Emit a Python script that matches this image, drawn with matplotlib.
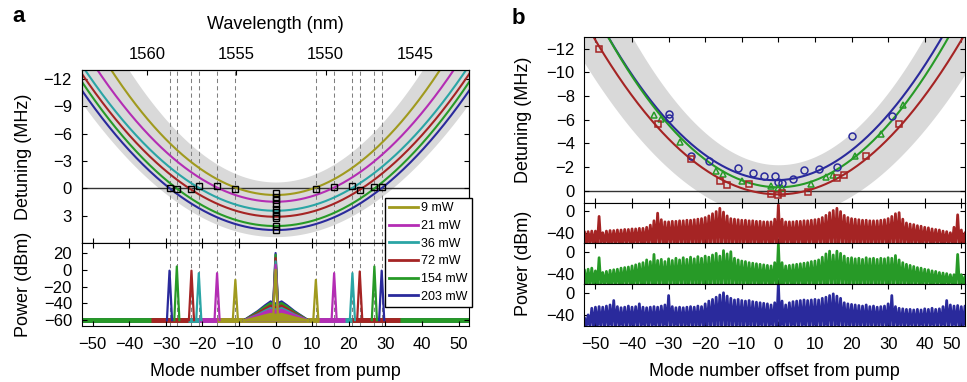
import numpy as np
import matplotlib
matplotlib.use("Agg")
import matplotlib.pyplot as plt
from matplotlib.lines import Line2D

plt.rcParams['font.family'] = ['Liberation Sans', 'DejaVu Sans']
plt.rcParams['xtick.direction'] = 'in'
plt.rcParams['ytick.direction'] = 'in'
plt.rcParams['xtick.major.size'] = 3.5
plt.rcParams['ytick.major.size'] = 3.5
plt.rcParams['xtick.labelsize'] = 12
plt.rcParams['ytick.labelsize'] = 12
plt.rcParams['axes.labelsize'] = 13

# ---------------- panel a data ----------------
powers = ['9 mW', '21 mW', '36 mW', '72 mW', '154 mW', '203 mW']
colors_a = ['#a09a1e', '#b42db4', '#2aa5a5', '#a52424', '#279a27', '#2a2a9c']
det_min_a = [0.73, 1.47, 2.46, 3.12, 4.14, 4.58]      # fit: D = min - curv*m^2
det_curv_a = [0.0068, 0.0061, 0.0057, 0.0056, 0.00565, 0.00547]
band_a_inner = [-0.7, 0.00764]
band_a_outer = [5.3, 0.00523]
zero_modes = [-29, -27, -23, -21, -16, -11, 11, 16, 21, 23, 27, 29]
zero_det = [0.0, 0.1, 0.1, -0.3, -0.3, 0.1, 0.1, -0.1, -0.3, 0.2, -0.2, -0.2]
pump_det = [0.5, 0.9, 1.3, 1.7, 2.3, 2.6, 3.0, 3.3, 4.1, 4.6]
lam0, lam_per_mode = 1552.8, 0.205
lam_ticks = [1560, 1555, 1550, 1545]

side_mode_a = [11, 16, 21, 23, 27, 29]
side_left_a = [-12, -4, -4, -1, 4, -1]
side_right_a = [-12, -4, -4, -2, 4, -1]
pump_pow_a = [0, 6, 10, 14, 18, 20]
hump_pow_a = [-52, -47, -45, -42, -39, -37]
floor_lo_a = [-16, -21, -24, -34, -53, -53]
floor_hi_a = [12, 19, 21, 34, 53, 53]
floor_pow = -60
hump_x = [-9, -7, -5, -3, -1.5, -0.4, 0.4, 1.5, 3, 5, 7, 9]
hump_frac = [0, 0.25, 0.5, 0.8, 1, 0.9, 0.9, 1, 0.8, 0.5, 0.25, 0]

# ---------------- panel b data ----------------
colors_b = ['#2a2a9c', '#279a27', '#a52424']
fit_b = [[-0.9, -0.01, -0.0058], [-0.3, 0.0, -0.00585], [0.3, 0.0, -0.0052]]
band_b_inner = [-2.2, 0.00675]
band_b_outer = [2.3, 0.00466]

blue_m = [-30, -30, -24, -19, -11, -7, -4, -1, 0, 1, 4, 7, 11, 16, 20, 31]
blue_d = [-6.5, -6.1, -2.95, -2.5, -1.9, -1.5, -1.25, -1.25, -0.76, -0.7, -0.96,
          -1.75, -1.8, -2.0, -4.6, -6.35]
green_m = [-34, -32, -27, -17, -15, -10, -2, 0, 1, 9, 13, 15, 21, 28, 34]
green_d = [-6.4, -6.05, -4.15, -1.7, -1.4, -0.85, -0.4, -0.2, -0.2, -0.57, -1.2,
           -1.33, -2.9, -4.8, -7.2]
red_m = [-49, -33, -24, -16, -14, -8, -2, 0, 1, 8, 16, 18, 24, 33]
red_d = [-12.0, -5.6, -2.7, -0.85, -0.5, -0.55, 0.3, 0.36, 0.17, 0.14, -1.05,
         -1.33, -2.9, -5.65]

# comb line power per mode, modes -53 .. 51
red_env = [-38, -38, -37, -37, -10,
           -40, -37, -36, -36, -35, -35, -34, -34, -33, -33, -32, -32, -30,
           -26, -18, -4, -16,
           -20, -20, -19, -19, -18, -18, -17, -17, -16, -15, -14, -12, -9, -5,
           -1, 5, -2, -9,
           -14, -15, -16, -17, -17, -18, -18, -19, -19, -20, -20, -20, -15,
           11,
           -15, -20, -20, -20, -19, -19, -18, -18, -17, -16, -15, -12, -8,
           -3, 1, 5, -1, -8,
           -12, -14, -15, -16, -17, -17, -18, -18, -18, -17, -16, -14, -10,
           -5, -3, -15,
           -22, -24, -25, -27, -28, -30, -31, -33, -34, -35, -37, -38, -40,
           -30, -7, -35, -40]
green_env = [-33, -32, -30, -35, -11,
             -38, -36, -34, -33, -32, -30, -29, -28,
             -26, -24, -22, -20, -15, -18, -5, -16,
             -14, -18, -13, -16, -12, -15, -11, -14, -10, -13, -9, -12, -8, -10,
             -6, -3, -8, 2, -4, 0,
             -12, -15, -17, -18, -20, -21, -22, -23, -24, -25, -26, -20,
             13,
             -20, -26, -25, -24, -23, -22, -21, -20, -18, -17, -15,
             -10, -4, 1, -6, 1, -3, -8,
             -12, -11, -13, -12, -14, -11, -13, -12, -14, -12, -13, -11, -12,
             -7,
             -15, -20, -23, -25, -27, -29, -30, -32, -33, -35, -36, -38, -39, -40, -42, -42,
             -5, -42, -45]
blue_env = [-45, -40, -28,
            -26, -25, -26, -24, -22, -14,
            -25, -27, -26, -24, -26, -25, -20,
            -26, -27, -26, -25, -26, -24, -22, -5,
            -25, -27, -26, -27, -26, -25, -26, -24, -25, -20,
            -15, -12, -8, -4, 0, -6, -10, -13, -12,
            -14, -15, -14, -16, -17, -18, -19, -20, -22, -18,
            17,
            -15, -22, -18, -16, -15, -14, -13, -14, -13, -12, -13, -10, -8,
            -5, -2, -6, -10,
            -18, -20, -21, -22, -23, -24, -22, -25, -24, -26, -25, -24, -20,
            -5,
            -25, -28, -29, -30, -30, -31, -30, -31, -29, -30, -28, -30, -29, -25,
            -14, -22, -24, -23, -25, -24]
comb_floor = -59

fig = plt.figure(figsize=(9.67, 3.82), dpi=100)
band_col = '#d9d9d9'
dash_col = '0.5'

# ================= panel a, detuning =================
axa1 = fig.add_axes([0.0845, 0.3639, 0.401, 0.4529])
mm = np.linspace(-53, 53, 400)
axa1.fill_between(mm, band_a_inner[0] - band_a_inner[1] * mm ** 2,
                  band_a_outer[0] - band_a_outer[1] * mm ** 2,
                  color=band_col, lw=0, zorder=0)
axa1.axhline(0, color='#333333', lw=1.0, zorder=1)
for m in zero_modes:
    axa1.axvline(m, color=dash_col, lw=0.75, ls=(0, (4, 3)), zorder=1.5)
for c, d0, k in zip(colors_a, det_min_a, det_curv_a):
    axa1.plot(mm, d0 - k * mm ** 2, color=c, lw=1.5, zorder=2)
axa1.plot(zero_modes, zero_det, 's', ms=4, mfc='none', mec='k', mew=1, zorder=3)
axa1.plot(np.zeros(len(pump_det)), pump_det, 's', ms=4, mfc='none', mec='k',
          mew=1, zorder=3)
axa1.set_xlim(-53, 53)
axa1.set_ylim(6, -13)
axa1.set_yticks([-12, -9, -6, -3, 0, 3])
axa1.set_xticks(range(-50, 51, 10))
axa1.tick_params(axis='x', labelbottom=False, bottom=True, top=False)
axa1.tick_params(axis='y', right=True, pad=7)
axa1.set_ylabel('Detuning (MHz)')
axa1.yaxis.set_label_coords(-0.128, 0.5)

axw = axa1.twiny()
axw.set_xlim(lam0 + lam_per_mode * 53, lam0 - lam_per_mode * 53)
axw.set_xticks(lam_ticks)
axw.tick_params(axis='x', pad=6)
axw.set_xlabel('Wavelength (nm)', labelpad=13)

# ================= panel a, spectra =================
axa2 = fig.add_axes([0.0845, 0.1466, 0.401, 0.2173])
for m in zero_modes:
    axa2.axvline(m, color=dash_col, lw=0.75, ls=(0, (4, 3)), zorder=0.5)
handles = []
for i, c in enumerate(colors_a):
    zo = (5 - i) * 0.01   # low power drawn on top
    axa2.plot([floor_lo_a[i], floor_hi_a[i]], [floor_pow, floor_pow], color=c,
              lw=3.5, solid_capstyle='butt', zorder=1 + zo)
    hy = [floor_pow + f * (hump_pow_a[i] - floor_pow) for f in hump_frac]
    axa2.fill_between(hump_x, floor_pow, hy, color=c, lw=1.5, ec=c, zorder=2 + zo)
    axa2.plot([-0.6, 0, 0.6], [hump_pow_a[i], pump_pow_a[i], hump_pow_a[i]],
              color=c, lw=1.6, zorder=2 + zo)
    sm = side_mode_a[i]
    for pos, h in ((-sm, side_left_a[i]), (sm, side_right_a[i])):
        axa2.plot([pos - 0.7, pos, pos + 0.7], [floor_pow, h, floor_pow], color=c,
                  lw=1.6, zorder=3)
    handles.append(Line2D([], [], color=c, lw=2, label=powers[i]))
axa2.set_xlim(-53, 53)
axa2.set_ylim(-67, 32)
axa2.set_yticks([20, 0, -20, -40, -60])
axa2.set_xticks(range(-50, 51, 10))
axa2.tick_params(axis='x', top=True, pad=8)
axa2.tick_params(axis='y', right=True, pad=7)
axa2.set_ylabel('Power (dBm)')
axa2.yaxis.set_label_coords(-0.128, 0.5)
axa2.set_xlabel('Mode number offset from pump', labelpad=8)

fig.legend(handles=handles, loc='upper right',
           bbox_to_anchor=(471.7 / 967, 1 - 198 / 382), bbox_transform=fig.transFigure,
           fontsize=9, frameon=True, fancybox=False, framealpha=1,
           edgecolor='k', handlelength=2.3, handletextpad=0.25,
           borderpad=0.35, labelspacing=0.45, borderaxespad=0)

# ================= panel b, detuning =================
axb1 = fig.add_axes([0.6044, 0.4694, 0.3935, 0.4346])
mb = np.linspace(-53, 51, 400)
axb1.fill_between(mb, band_b_inner[0] - band_b_inner[1] * mb ** 2,
                  band_b_outer[0] - band_b_outer[1] * mb ** 2,
                  color=band_col, lw=0, zorder=0)
axb1.axhline(0, color='#333333', lw=1.0, zorder=1)
for c, (c0, c1, c2) in zip(colors_b, fit_b):
    axb1.plot(mb, c0 + c1 * mb + c2 * mb ** 2, color=c, lw=1.5, zorder=2)
axb1.plot(blue_m, blue_d, 'o', ms=5, mfc='none', mec=colors_b[0], mew=1.1, zorder=3)
axb1.plot(green_m, green_d, '^', ms=5, mfc='none', mec=colors_b[1], mew=1.1, zorder=3)
axb1.plot(red_m, red_d, 's', ms=4.2, mfc='none', mec=colors_b[2], mew=1.1, zorder=3)
axb1.set_xlim(-53, 51)
axb1.set_ylim(1, -13)
axb1.set_yticks(range(-12, 1, 2))
axb1.set_xticks(range(-50, 51, 10))
axb1.tick_params(axis='x', labelbottom=False, top=True)
axb1.tick_params(axis='y', right=True, pad=7)
axb1.set_ylabel('Detuning (MHz)')
axb1.yaxis.set_label_coords(-0.138, 0.5)

# ================= panel b, spectra =================
rects = [[0.6044, 0.3631, 0.3935, 0.1063],
         [0.6044, 0.2558, 0.3935, 0.1073],
         [0.6044, 0.1474, 0.3935, 0.1084]]
envs = [red_env, green_env, blue_env]
ccols = [colors_b[2], colors_b[1], colors_b[0]]
axs_b = []
for r, env, c in zip(rects, envs, ccols):
    ax = fig.add_axes(r)
    xs, ys = [], []
    for k, e in enumerate(env):
        m = -53 + k
        xs += [m - 0.45, m, m + 0.45]
        ys += [comb_floor, e, comb_floor]
    ax.plot(xs, ys, color=c, lw=2.0)
    ax.set_xlim(-53, 51)
    ax.set_ylim(-59.5, 15.3)
    ax.set_yticks([0, -40])
    ax.set_xticks(range(-50, 51, 10))
    ax.tick_params(axis='x', top=True, labelbottom=False)
    ax.tick_params(axis='y', right=True, pad=7)
    axs_b.append(ax)
axs_b[-1].tick_params(axis='x', labelbottom=True, pad=8)
axs_b[-1].set_xlabel('Mode number offset from pump', labelpad=8)
axs_b[1].set_ylabel('Power (dBm)')
axs_b[1].yaxis.set_label_coords(-0.138, 0.5)
# keep the last tick label inside the figure
axs_b[-1].get_xticklabels()[-1].set_horizontalalignment('right')
axs_b[-1].get_xticklabels()[-1].set_x(50)

fig.text(19 / 967, 1 - 17 / 382, 'a', fontsize=16, fontweight='bold',
         ha='center', va='center')
fig.text(518 / 967, 1 - 18 / 382, 'b', fontsize=16, fontweight='bold',
         ha='center', va='center')

fig.savefig('out.png', dpi=100)
